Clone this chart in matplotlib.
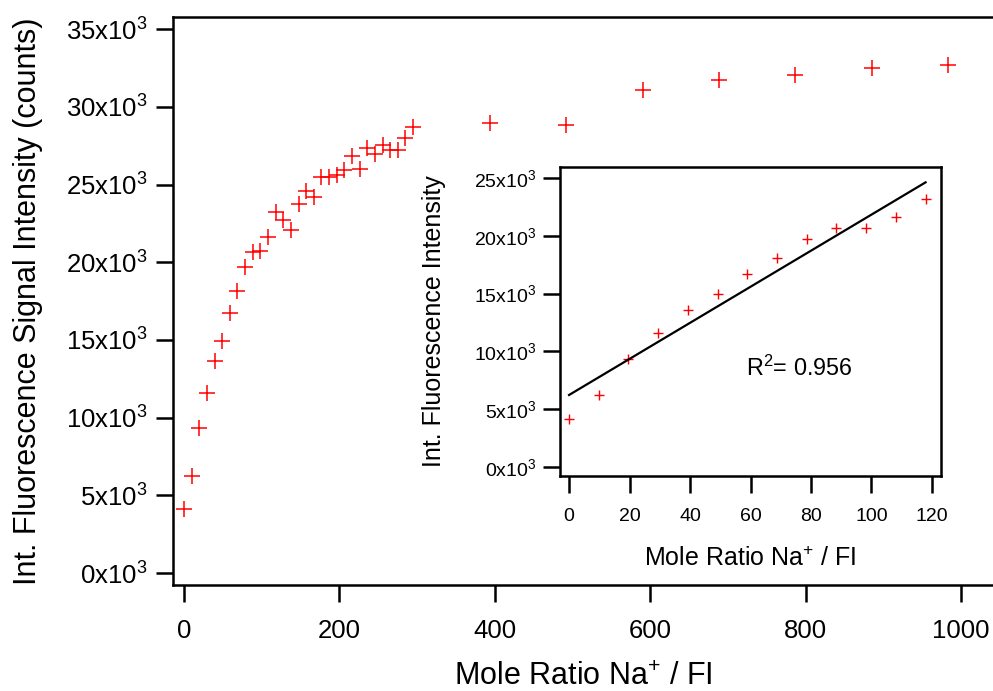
import numpy as np
import matplotlib
matplotlib.use('Agg')
import matplotlib.pyplot as plt

plt.rcParams['font.family'] = ['Liberation Sans', 'DejaVu Sans']
plt.rcParams['mathtext.fontset'] = 'custom'
plt.rcParams['mathtext.rm'] = 'Liberation Sans'
plt.rcParams['mathtext.it'] = 'Liberation Sans:italic'

# titration data (mole ratio Na+ / FI vs integrated intensity)
mole_ratio = [0, 9.8, 19.6, 29.5, 39.3, 49.1, 58.9, 68.8, 78.6, 88.4,
              98.2, 108.0, 117.9, 127.7, 137.5, 147.3, 157.1, 167.0, 176.8, 186.6,
              196.4, 206.2, 216.1, 225.9, 235.7, 245.5, 255.4, 265.2, 275.0, 284.8,
              294.6, 393.5, 491.5, 590.5, 688.5, 786.0, 885.0, 983.0]
intensity = [4120, 6260, 9300, 11600, 13620, 14950, 16720, 18120, 19720, 20660,
             20700, 21650, 23200, 22720, 22070, 23750, 24580, 24200, 25480, 25480,
             25610, 25930, 26830, 26000, 27350, 26960, 27540, 27220, 27220, 27990,
             28700, 28940, 28830, 31080, 31720, 32050, 32500, 32660]

# inset: first 13 points with linear fit
n_inset = 13
fit_intercept = 6230
fit_slope = 156.0
r_squared = '0.956'

main_yticks = [0, 5000, 10000, 15000, 20000, 25000, 30000, 35000]
main_xticks = [0, 200, 400, 600, 800, 1000]
inset_yticks = [0, 5000, 10000, 15000, 20000, 25000]
inset_xticks = [0, 20, 40, 60, 80, 100, 120]


def kfmt(v):
    return f'{int(v / 1000)}x10$^{{3}}$'


def style_axes(ax, ticklen, labelsize, xpad, ypad):
    for s in ['left', 'top', 'bottom', 'right']:
        ax.spines[s].set_linewidth(1.8)
    ax.tick_params(direction='out', length=ticklen, width=1.8,
                   labelsize=labelsize, colors='k')
    ax.tick_params(axis='x', pad=xpad)
    ax.tick_params(axis='y', pad=ypad)


fig = plt.figure(figsize=(9.93, 6.91), dpi=100, facecolor='white')

# main plot
ax = fig.add_axes([173/993, 106/691, 820/993, 568/691])
ax.plot(mole_ratio, intensity, linestyle='none', marker='+', color='#ff0000',
        markersize=11, markeredgewidth=1.1)
ax.set_xlim(-14.2, 1041)
ax.set_ylim(-772, 35780)
ax.spines['right'].set_visible(False)
ax.set_xticks(main_xticks)
ax.set_yticks(main_yticks, labels=[kfmt(v) for v in main_yticks])
style_axes(ax, 12.5, 18.5, 12, 6)
ax.set_xlabel('Mole Ratio Na$^{+}$ / FI', fontsize=22, labelpad=14)
ax.set_ylabel('Int. Fluorescence Signal Intensity (counts)', fontsize=22, labelpad=16)

# inset
ins = fig.add_axes([560/993, 215/691, 381/993, 309/691])
xi = np.array(mole_ratio[:n_inset])
ins.plot(xi, intensity[:n_inset], linestyle='none', marker='+', color='#ff0000',
         markersize=7.5, markeredgewidth=1.0)
fit_x = np.array([xi[0], xi[-1]])
ins.plot(fit_x, fit_intercept + fit_slope * fit_x, color='k', lw=1.6)
ins.set_xlim(-3, 123)
ins.set_ylim(-778, 25950)
ins.set_xticks(inset_xticks)
ins.set_yticks(inset_yticks, labels=[kfmt(v) for v in inset_yticks])
style_axes(ins, 12, 14, 11, 5)
ins.text(76, 8560, f'R$^{{2}}$= {r_squared}', fontsize=16.8, ha='center', va='center')
ins.set_xlabel('Mole Ratio Na$^{+}$ / FI', fontsize=18, labelpad=16)
ins.set_ylabel('Int. Fluorescence Intensity', fontsize=18, labelpad=20)

fig.savefig('out.png', dpi=100, facecolor='white')
